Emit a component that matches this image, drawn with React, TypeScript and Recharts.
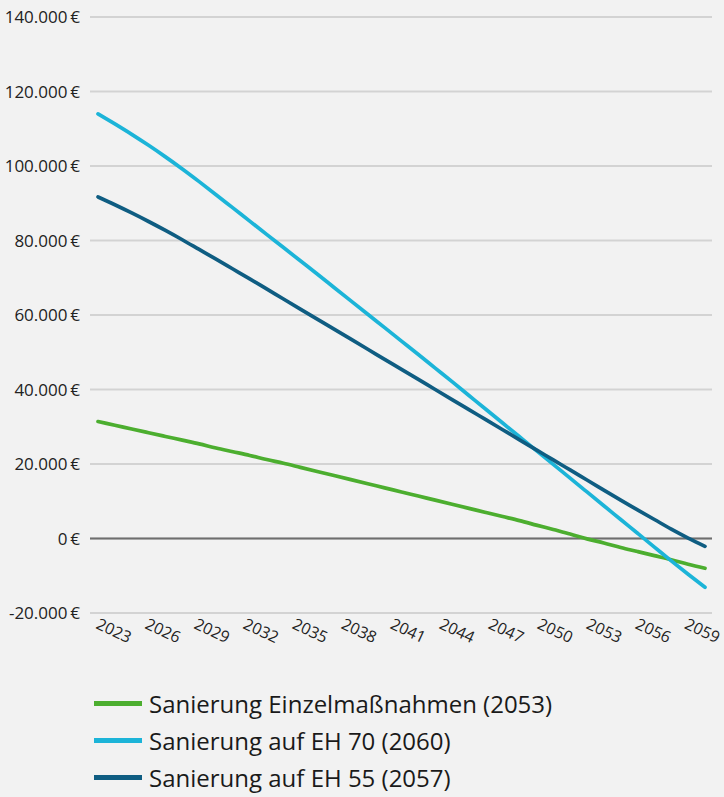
import React from 'react';
import { LineChart, Line, XAxis, YAxis, CartesianGrid, ReferenceLine } from 'recharts';

const years = [
    2023, 2024, 2025, 2026, 2027, 2028, 2029, 2030, 2031, 2032, 2033, 2034, 2035,
    2036, 2037, 2038, 2039, 2040, 2041, 2042, 2043, 2044, 2045, 2046, 2047, 2048,
    2049, 2050, 2051, 2052, 2053, 2054, 2055, 2056, 2057, 2058, 2059,
];

// Sanierung Einzelmaßnahmen (2053)
const einzel = [
    31400, 30400, 29400, 28400, 27400, 26400, 25400, 24300, 23300, 22300, 21200, 20200, 19100,
    18000, 16900, 15800, 14700, 13600, 12500, 11400, 10300, 9200, 8100, 7000, 5900, 4800,
    3600, 2400, 1200, -100, -1200, -2400, -3500, -4600, -5700, -6900, -8000,
];

// Sanierung auf EH 70 (2060)
const eh70 = [
    114000, 111300, 108500, 105550, 102450, 99200, 95800, 92300, 88750, 85200, 81650, 78100, 74550,
    71000, 67400, 63800, 60200, 56600, 53000, 49400, 45750, 42100, 38400, 34700, 31000, 27300,
    23600, 19900, 16200, 12500, 8800, 5100, 1400, -2300, -6000, -9600, -13100,
];

// Sanierung auf EH 55 (2057)
const eh55 = [
    91700, 89600, 87400, 85100, 82700, 80200, 77600, 75000, 72350, 69700, 67000, 64300, 61600,
    58900, 56200, 53500, 50800, 48100, 45400, 42700, 40000, 37300, 34600, 31900, 29200, 26500,
    23800, 21100, 18400, 15700, 13000, 10300, 7700, 5100, 2500, 100, -2100,
];

const yTicks = [-20000, 0, 20000, 40000, 60000, 80000, 100000, 120000, 140000];
const xTicks = [2023, 2026, 2029, 2032, 2035, 2038, 2041, 2044, 2047, 2050, 2053, 2056, 2059];

const SERIES = [
    { key: 'einzel', name: 'Sanierung Einzelmaßnahmen (2053)', color: '#4cae2f' },
    { key: 'eh70', name: 'Sanierung auf EH 70 (2060)', color: '#1cb4d8' },
    { key: 'eh55', name: 'Sanierung auf EH 55 (2057)', color: '#0f5d82' },
];

const FONT = '"Open Sans", "Noto Sans", sans-serif';

const formatEuro = (v: number) => {
    const s = Math.abs(v).toString().replace(/\B(?=(\d{3})+(?!\d))/g, '.');
    return (v < 0 ? '-' : '') + s + '\u2009€';
};

const data = years.map((year, i) => ({
    year,
    einzel: einzel[i],
    eh70: eh70[i],
    eh55: eh55[i],
}));

// labels in the original sit a little tighter than the data points
const YearTick = (props: any) => {
    const { x, y, payload } = props;
    const step = (payload.value - 2023) / 3;
    const tx = x - 3 - step * 1.55;
    const ty = y + 7;
    return (
        <text
            x={tx}
            y={ty}
            transform={`rotate(25, ${tx}, ${ty})`}
            textAnchor="start"
            fontSize={16}
            fontFamily={FONT}
            fill="#222"
        >
            {payload.value}
        </text>
    );
};

const App: React.FC = () => {
    return (
        <div
            style={{
                position: 'absolute',
                left: 0,
                top: 0,
                width: 724,
                height: 797,
                background: '#f2f2f2',
                fontFamily: FONT,
            }}
        >
            <LineChart
                width={724}
                height={660}
                data={data}
                margin={{ top: 17, right: 12, left: 0, bottom: 17 }}
            >
                <CartesianGrid vertical={false} stroke="#d3d3d3" strokeWidth={2} />
                <XAxis
                    dataKey="year"
                    type="number"
                    domain={[2023, 2059]}
                    ticks={xTicks}
                    interval={0}
                    padding={{ left: 8, right: 7 }}
                    axisLine={false}
                    tickLine={false}
                    height={30}
                    tick={<YearTick />}
                />
                <YAxis
                    domain={[-20000, 140000]}
                    ticks={yTicks}
                    width={90}
                    axisLine={false}
                    tickLine={false}
                    tickMargin={4}
                    tickFormatter={formatEuro}
                    tick={{ fontSize: 17, fill: '#222', fontFamily: FONT }}
                />
                <ReferenceLine y={0} stroke="#6e6e6e" strokeWidth={2} />
                {SERIES.map((s) => (
                    <Line
                        key={s.key}
                        dataKey={s.key}
                        name={s.name}
                        type="monotone"
                        stroke={s.color}
                        strokeWidth={3.7}
                        strokeLinecap="round"
                        dot={false}
                        activeDot={false}
                        isAnimationActive={false}
                    />
                ))}
            </LineChart>
            <div style={{ position: 'absolute', left: 94, top: 685 }}>
                {SERIES.map((s) => (
                    <div
                        key={s.key}
                        style={{ display: 'flex', alignItems: 'center', height: 37, fontSize: 24, color: '#1a1a1a' }}
                    >
                        <span style={{ display: 'inline-block', width: 48, height: 5, background: s.color, marginRight: 7 }} />
                        <span>{s.name}</span>
                    </div>
                ))}
            </div>
        </div>
    );
};

export default App;
